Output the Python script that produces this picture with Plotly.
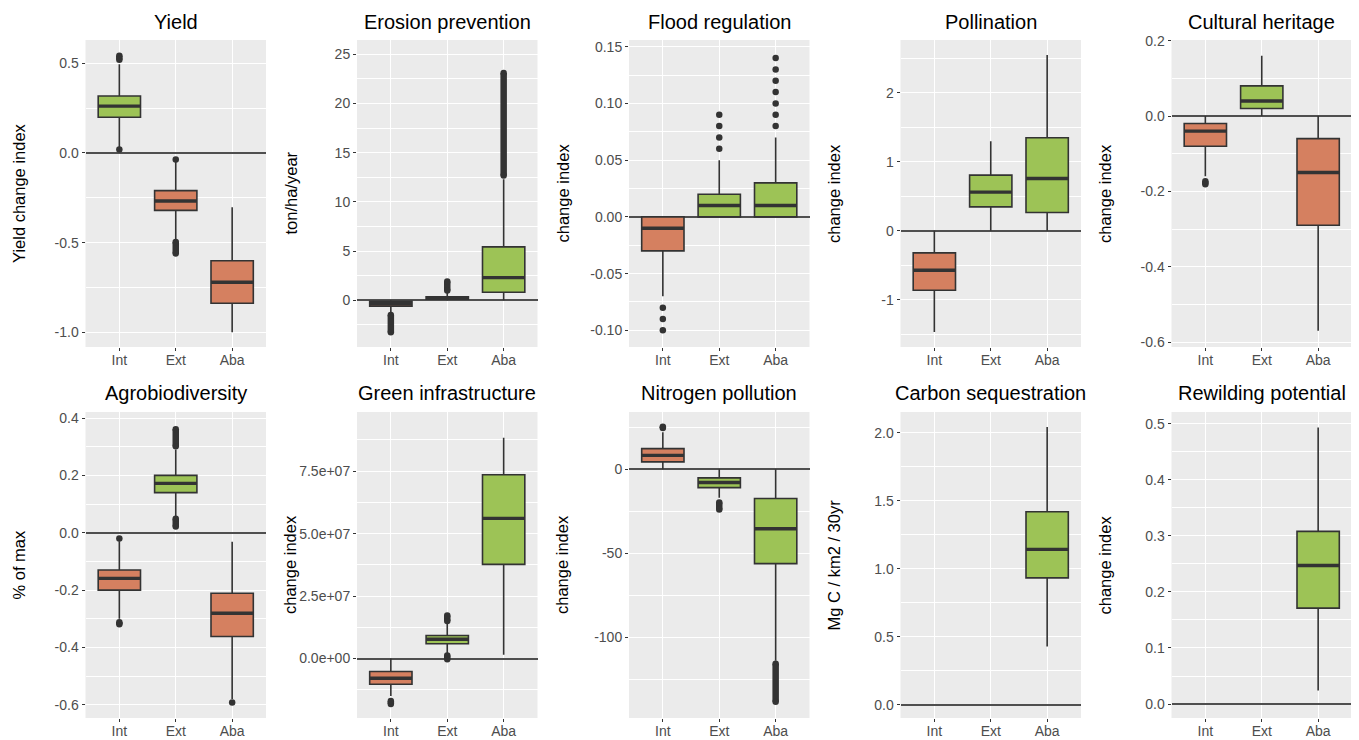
import plotly.graph_objects as go

CATEGORIES = ["Int", "Ext", "Aba"]

# ---------------- data ----------------
# each stat list is ordered Int, Ext, Aba ; None = no box drawn
yield_lower = [0.025, -0.485, -1.000]
yield_q1 = [0.199, -0.320, -0.838]
yield_median = [0.261, -0.268, -0.721]
yield_q3 = [0.318, -0.210, -0.601]
yield_upper = [0.495, -0.050, -0.302]
yield_sign = ["gain", "loss", "loss"]
yield_outliers = [("Int", 0.019), ("Ext", -0.037)]
yield_outlier_runs = [("Int", 0.520, 0.542), ("Ext", -0.560, -0.497)]
yield_ticks = [-1.0, -0.5, 0.0, 0.5]
yield_tick_labels = ["-1.0", "-0.5", "0.0", "0.5"]

erosion_lower = [-1.30, 0.00, 0.00]
erosion_q1 = [-0.60, 0.10, 0.81]
erosion_median = [-0.35, 0.20, 2.30]
erosion_q3 = [-0.10, 0.35, 5.42]
erosion_upper = [0.00, 0.85, 12.30]
erosion_sign = ["loss", "gain", "gain"]
erosion_outliers = []
erosion_outlier_runs = [("Int", -3.25, -1.49), ("Ext", 0.98, 1.90), ("Aba", 12.68, 23.08)]
erosion_ticks = [0, 5, 10, 15, 20, 25]
erosion_tick_labels = ["0", "5", "10", "15", "20", "25"]

flood_lower = [-0.07, 0.00, 0.00]
flood_q1 = [-0.03, 0.00, 0.00]
flood_median = [-0.01, 0.01, 0.01]
flood_q3 = [0.00, 0.02, 0.03]
flood_upper = [0.00, 0.05, 0.07]
flood_sign = ["loss", "gain", "gain"]
flood_outliers = [("Int", -0.08), ("Int", -0.09), ("Int", -0.10),
                  ("Ext", 0.06), ("Ext", 0.07), ("Ext", 0.08), ("Ext", 0.09),
                  ("Aba", 0.08), ("Aba", 0.09), ("Aba", 0.10), ("Aba", 0.11),
                  ("Aba", 0.12), ("Aba", 0.13), ("Aba", 0.14)]
flood_outlier_runs = []
flood_ticks = [-0.10, -0.05, 0.00, 0.05, 0.10, 0.15]
flood_tick_labels = ["-0.10", "-0.05", "0.00", "0.05", "0.10", "0.15"]

pollination_lower = [-1.466, 0.000, 0.000]
pollination_q1 = [-0.861, 0.348, 0.266]
pollination_median = [-0.571, 0.561, 0.760]
pollination_q3 = [-0.319, 0.808, 1.350]
pollination_upper = [0.000, 1.300, 2.550]
pollination_sign = ["loss", "gain", "gain"]
pollination_outliers = []
pollination_outlier_runs = []
pollination_ticks = [-1, 0, 1, 2]
pollination_tick_labels = ["-1", "0", "1", "2"]

cultural_lower = [-0.160, 0.000, -0.570]
cultural_q1 = [-0.080, 0.020, -0.290]
cultural_median = [-0.040, 0.040, -0.150]
cultural_q3 = [-0.020, 0.080, -0.060]
cultural_upper = [0.000, 0.160, 0.000]
cultural_sign = ["loss", "gain", "loss"]
cultural_outliers = []
cultural_outlier_runs = [("Int", -0.181, -0.173)]
cultural_ticks = [-0.6, -0.4, -0.2, 0.0, 0.2]
cultural_tick_labels = ["-0.6", "-0.4", "-0.2", "0.0", "0.2"]

agro_lower = [-0.300, 0.055, -0.580]
agro_q1 = [-0.200, 0.140, -0.362]
agro_median = [-0.159, 0.172, -0.281]
agro_q3 = [-0.130, 0.200, -0.211]
agro_upper = [-0.030, 0.290, -0.031]
agro_sign = ["loss", "gain", "loss"]
agro_outliers = [("Int", -0.020), ("Aba", -0.592)]
agro_outlier_runs = [("Int", -0.319, -0.312), ("Ext", 0.302, 0.361), ("Ext", 0.022, 0.049)]
agro_ticks = [-0.6, -0.4, -0.2, 0.0, 0.2, 0.4]
agro_tick_labels = ["-0.6", "-0.4", "-0.2", "0.0", "0.2", "0.4"]

green_lower = [-15.0e6, 2.0e6, 1.5e6]
green_q1 = [-10.3e6, 5.9e6, 37.7e6]
green_median = [-7.9e6, 7.7e6, 56.1e6]
green_q3 = [-5.2e6, 9.2e6, 73.6e6]
green_upper = [0.0, 14.0e6, 88.4e6]
green_sign = ["loss", "gain", "gain"]
green_outliers = []
green_outlier_runs = [("Int", -18.2e6, -17.0e6), ("Ext", 15.0e6, 17.2e6), ("Ext", -0.27e6, 1.2e6)]
green_ticks = [0.0, 2.5e7, 5.0e7, 7.5e7]
green_tick_labels = ["0.0e+00", "2.5e+07", "5.0e+07", "7.5e+07"]

nitrogen_lower = [0.0, -17.0, -114.0]
nitrogen_q1 = [4.4, -10.9, -56.2]
nitrogen_median = [8.3, -7.9, -35.4]
nitrogen_q3 = [12.3, -5.1, -17.4]
nitrogen_upper = [22.0, 0.0, 0.0]
nitrogen_sign = ["loss", "gain", "gain"]
nitrogen_outliers = []
nitrogen_outlier_runs = [("Int", 24.6, 25.3), ("Ext", -24.0, -19.8), ("Aba", -138.4, -115.8)]
nitrogen_ticks = [-100, -50, 0]
nitrogen_tick_labels = ["-100", "-50", "0"]

carbon_lower = [None, None, 0.428]
carbon_q1 = [None, None, 0.933]
carbon_median = [None, None, 1.143]
carbon_q3 = [None, None, 1.420]
carbon_upper = [None, None, 2.044]
carbon_sign = [None, None, "gain"]
carbon_outliers = []
carbon_outlier_runs = []
carbon_ticks = [0.0, 0.5, 1.0, 1.5, 2.0]
carbon_tick_labels = ["0.0", "0.5", "1.0", "1.5", "2.0"]

rewild_lower = [None, None, 0.024]
rewild_q1 = [None, None, 0.171]
rewild_median = [None, None, 0.247]
rewild_q3 = [None, None, 0.308]
rewild_upper = [None, None, 0.493]
rewild_sign = [None, None, "gain"]
rewild_outliers = []
rewild_outlier_runs = []
rewild_ticks = [0.0, 0.1, 0.2, 0.3, 0.4, 0.5]
rewild_tick_labels = ["0.0", "0.1", "0.2", "0.3", "0.4", "0.5"]

PANELS = [
    ("Yield", "Yield change index", yield_lower, yield_q1, yield_median, yield_q3, yield_upper,
     yield_sign, yield_outliers, yield_outlier_runs, yield_ticks, yield_tick_labels),
    ("Erosion prevention", "ton/ha/year", erosion_lower, erosion_q1, erosion_median, erosion_q3, erosion_upper,
     erosion_sign, erosion_outliers, erosion_outlier_runs, erosion_ticks, erosion_tick_labels),
    ("Flood regulation", "change index", flood_lower, flood_q1, flood_median, flood_q3, flood_upper,
     flood_sign, flood_outliers, flood_outlier_runs, flood_ticks, flood_tick_labels),
    ("Pollination", "change index", pollination_lower, pollination_q1, pollination_median, pollination_q3,
     pollination_upper, pollination_sign, pollination_outliers, pollination_outlier_runs,
     pollination_ticks, pollination_tick_labels),
    ("Cultural heritage", "change index", cultural_lower, cultural_q1, cultural_median, cultural_q3,
     cultural_upper, cultural_sign, cultural_outliers, cultural_outlier_runs, cultural_ticks, cultural_tick_labels),
    ("Agrobiodiversity", "% of max", agro_lower, agro_q1, agro_median, agro_q3, agro_upper,
     agro_sign, agro_outliers, agro_outlier_runs, agro_ticks, agro_tick_labels),
    ("Green infrastructure", "change index", green_lower, green_q1, green_median, green_q3, green_upper,
     green_sign, green_outliers, green_outlier_runs, green_ticks, green_tick_labels),
    ("Nitrogen pollution", "change index", nitrogen_lower, nitrogen_q1, nitrogen_median, nitrogen_q3,
     nitrogen_upper, nitrogen_sign, nitrogen_outliers, nitrogen_outlier_runs, nitrogen_ticks, nitrogen_tick_labels),
    ("Carbon sequestration", "Mg C / km2 / 30yr", carbon_lower, carbon_q1, carbon_median, carbon_q3,
     carbon_upper, carbon_sign, carbon_outliers, carbon_outlier_runs, carbon_ticks, carbon_tick_labels),
    ("Rewilding potential", "change index", rewild_lower, rewild_q1, rewild_median, rewild_q3, rewild_upper,
     rewild_sign, rewild_outliers, rewild_outlier_runs, rewild_ticks, rewild_tick_labels),
]

# ---------------- styling / layout ----------------
PAGE_OFFSET = 8            # browser body margin
W, H = 1359 - PAGE_OFFSET, 740 - PAGE_OFFSET
FILL = {"gain": "#9DC356", "loss": "#D58060"}
DARK = "#333333"
FONT = "Liberation Sans, Arial, sans-serif"

Y_RANGES = [
    [-1.082, 0.630], [-4.75, 26.44], [-0.1147, 0.1559], [-1.684, 2.767], [-0.613, 0.2018],
    [-0.646, 0.421], [-23.8e6, 98.7e6], [-148.1, 34.1], [-0.098, 2.154], [-0.0249, 0.5208],
]
# window-pixel geometry of the panels
COL_LEFT = [85.5, 357.0, 629.0, 900.5, 1171.5]
PANEL_W = 180.5
ROW_TOP = [40.0, 412.0]
ROW_BOTTOM = [347.0, 718.0]
TITLE_Y = [22.0, 393.0]
YTITLE_OFFSET = 67.0


def px(xw):
    return (xw - PAGE_OFFSET) / W


def py(yw):
    return 1 - (yw - PAGE_OFFSET) / H


fig = go.Figure()
layout = dict(
    width=W, height=H, autosize=False,
    margin=dict(l=0, r=0, t=0, b=0, pad=0),
    paper_bgcolor="white", plot_bgcolor="#EBEBEB",
    showlegend=False, boxmode="overlay",
    font=dict(family=FONT, size=14, color="#4D4D4D"),
)
annotations = []

for i, (title, ytitle, lo, q1, med, q3, hi, sign, outs, runs, ticks, labels) in enumerate(PANELS):
    r, c = divmod(i, 5)
    n = i + 1
    xa, ya = f"x{n}", f"y{n}"
    left = COL_LEFT[c]
    right = left + PANEL_W
    top, bottom = ROW_TOP[r], ROW_BOTTOM[r]

    for k, cat in enumerate(CATEGORIES):
        if med[k] is None:
            continue
        pos = CATEGORIES.index(cat)
        fig.add_trace(go.Box(
            x=[pos], q1=[q1[k]], median=[med[k]], q3=[q3[k]],
            lowerfence=[lo[k]], upperfence=[hi[k]],
            width=0.75, whiskerwidth=0, boxpoints=False,
            fillcolor=FILL[sign[k]], line=dict(color=DARK, width=1.6),
            xaxis=xa, yaxis=ya, hoverinfo="skip",
        ))
        # thicker median bar (degenerate box at the median)
        fig.add_trace(go.Box(
            x=[pos], q1=[med[k]], median=[med[k]], q3=[med[k]],
            lowerfence=[med[k]], upperfence=[med[k]],
            width=0.75, whiskerwidth=0, boxpoints=False,
            fillcolor="rgba(0,0,0,0)", line=dict(color=DARK, width=3.4),
            xaxis=xa, yaxis=ya, hoverinfo="skip",
        ))

    for cat, y0, y1 in runs:
        pos = CATEGORIES.index(cat)
        fig.add_trace(go.Scatter(
            x=[pos, pos], y=[y0, y1], mode="lines+markers",
            line=dict(color=DARK, width=6.5), marker=dict(color=DARK, size=6.5),
            xaxis=xa, yaxis=ya, hoverinfo="skip",
        ))
    if outs:
        fig.add_trace(go.Scatter(
            x=[CATEGORIES.index(cat) for cat, _ in outs], y=[v for _, v in outs],
            mode="markers", marker=dict(color=DARK, size=6.5),
            xaxis=xa, yaxis=ya, hoverinfo="skip",
        ))

    step = ticks[1] - ticks[0]
    layout[f"xaxis{n}"] = dict(
        domain=[px(left), px(right)], anchor=ya, range=[-0.6, 2.6], automargin=False,
        tickmode="array", tickvals=list(range(len(CATEGORIES))), ticktext=CATEGORIES,
        showgrid=True, gridcolor="white", gridwidth=1.1, zeroline=False, showline=False,
        ticks="outside", ticklen=3, tickwidth=1, tickcolor=DARK, ticklabelstandoff=-3,
        tickfont=dict(size=14, color="#4D4D4D"), fixedrange=True,
    )
    layout[f"yaxis{n}"] = dict(
        domain=[py(bottom), py(top)], anchor=xa, range=Y_RANGES[i], automargin=False,
        tickmode="array", tickvals=ticks, ticktext=labels,
        showgrid=True, gridcolor="white", gridwidth=1.1,
        zeroline=True, zerolinecolor="#4F4F4F", zerolinewidth=1.5, showline=False,
        ticks="outside", ticklen=3, tickwidth=1, tickcolor=DARK,
        tickfont=dict(size=14, color="#4D4D4D"), fixedrange=True,
        minor=dict(tickmode="linear", tick0=0, dtick=step / 2, showgrid=True,
                   gridcolor="white", gridwidth=0.5, ticks=""),
    )
    annotations.append(dict(
        text=title, x=px((left + right) / 2), y=py(TITLE_Y[r]), xref="paper", yref="paper",
        xanchor="center", yanchor="middle", showarrow=False,
        font=dict(family=FONT, size=20, color="black"),
    ))
    annotations.append(dict(
        text=ytitle, x=px(left - YTITLE_OFFSET), y=py((top + bottom) / 2),
        xref="paper", yref="paper", xanchor="center", yanchor="middle",
        textangle=-90, showarrow=False, font=dict(family=FONT, size=16.5, color="black"),
    ))

layout["annotations"] = annotations
fig.update_layout(**layout)
fig.write_html("out.html")
